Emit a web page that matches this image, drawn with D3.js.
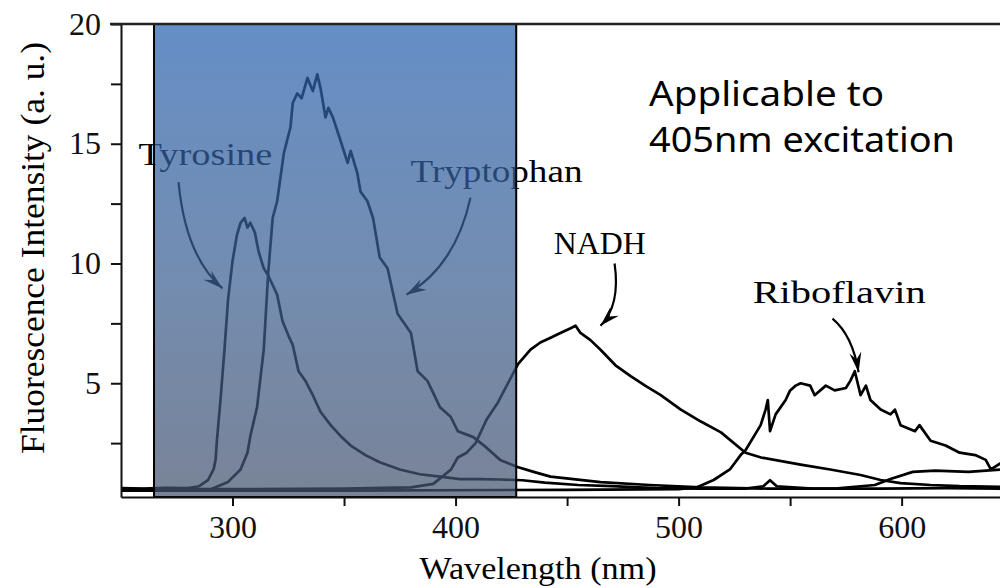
<!DOCTYPE html>
<html>
<head>
<meta charset="utf-8">
<script src="https://cdn.jsdelivr.net/npm/d3@7"></script>
<style>
  body { margin: 0; background: #fff; }
  svg { display: block; }
  .axis text { font-family: "Liberation Serif", serif; font-size: 32px; fill: #111; }
  .axis path, .axis line { stroke: #111; stroke-width: 2; }
  .curve { fill: none; stroke: #000; stroke-width: 2.7; stroke-linejoin: round; }
  .label { font-family: "Liberation Serif", serif; font-size: 31px; fill: #000; }
  .note { font-family: "Noto Sans", sans-serif; font-size: 34px; fill: #000; }
</style>
</head>
<body>
<svg id="chart" width="1000" height="588"></svg>
<script>
// emission spectra (nm / a.u.)
const tyrosineNm = [250, 260, 270, 280, 285, 289, 291.5, 292.4, 293, 294.6, 296.4, 298, 300, 302, 303.6, 305.4, 306.7, 308, 310, 311.7, 314, 316, 318, 320, 322.4, 325, 327, 329.6, 332.7, 336, 339.5, 344, 348.4, 353, 359.6, 366, 375, 384, 393, 402, 411, 420, 430, 440, 455, 470, 490, 510, 530, 538, 541, 544, 560, 590, 620, 645];
const tyrosineVal = [0.62, 0.6, 0.63, 0.62, 0.7, 0.95, 1.4, 1.8, 2.6, 4.3, 6.4, 8.5, 10.1, 11.2, 11.7, 11.9, 11.5, 11.7, 11.3, 10.5, 9.8, 9.5, 9.1, 8.7, 7.6, 7.0, 6.6, 5.5, 5.1, 4.5, 3.8, 3.25, 2.8, 2.4, 2.0, 1.7, 1.4, 1.2, 1.1, 1.0, 1.0, 0.98, 0.95, 0.85, 0.75, 0.7, 0.62, 0.6, 0.6, 0.7, 0.95, 0.7, 0.6, 0.6, 0.62, 0.6];

const tryptophanNm = [250, 270, 290, 298, 303.6, 306.7, 308, 311, 314, 316, 318, 320, 323, 326, 327, 329, 331, 333.6, 336, 338, 339.5, 341.7, 343, 345, 348, 351.6, 353, 356, 357.4, 360.5, 363, 366, 369.5, 374, 380, 383, 387.4, 393, 397.8, 401, 408, 414, 420, 427.8, 435, 442.6, 465, 487, 510, 540, 570, 588, 595, 605, 615, 630, 645];
const tryptophanVal = [0.55, 0.55, 0.56, 0.88, 1.4, 2.1, 2.8, 4.0, 6.4, 9.6, 11.9, 12.6, 14.6, 15.7, 16.7, 17.1, 16.9, 17.75, 17.2, 17.9, 17.3, 16.1, 16.5, 16.1, 15.25, 14.2, 14.7, 13.75, 13.0, 12.6, 11.9, 10.25, 9.8, 7.9, 7.1, 5.5, 5.1, 4.0, 3.6, 3.0, 2.75, 2.3, 1.8, 1.5, 1.3, 1.1, 0.87, 0.75, 0.65, 0.6, 0.6, 0.75, 1.0, 1.3, 1.35, 1.3, 1.4];

const nadhNm = [250, 300, 350, 380, 390, 398, 401, 405, 409, 411, 414, 419, 428, 433.6, 438, 442.6, 447, 451.6, 453.8, 456, 460.5, 465, 471.7, 478.5, 485, 492, 501, 510, 519, 530, 537, 554.7, 568, 581.6, 590.6, 599.5, 613, 626, 645];
const nadhVal = [0.58, 0.58, 0.6, 0.65, 0.8, 1.4, 1.9, 2.1, 2.5, 2.9, 3.5, 4.2, 5.8, 6.4, 6.7, 6.9, 7.1, 7.3, 7.4, 7.1, 6.8, 6.4, 5.75, 5.3, 4.9, 4.5, 3.9, 3.4, 2.95, 2.1, 1.9, 1.6, 1.4, 1.17, 0.96, 0.83, 0.75, 0.7, 0.67];

const riboflavinNm = [250, 350, 450, 500, 508, 515.7, 523, 527.8, 530, 536.8, 539, 540, 541, 543.5, 548, 550, 552.5, 554.7, 559, 561, 566, 570, 575, 577, 579, 581.6, 584, 586, 590.6, 595, 597, 599.5, 606, 608, 613, 619.7, 626, 633, 637.7, 640, 645];
const riboflavinVal = [0.52, 0.52, 0.55, 0.58, 0.65, 0.96, 1.4, 2.0, 2.2, 3.25, 3.9, 4.3, 3.0, 3.7, 4.3, 4.7, 4.9, 5.0, 4.9, 4.5, 4.9, 4.7, 4.8, 5.1, 5.5, 4.5, 4.9, 4.3, 3.9, 3.7, 3.9, 3.25, 3.0, 3.25, 2.6, 2.4, 2.1, 2.0, 1.8, 1.4, 1.7];

// axis ticks
const xTicks = [300, 350, 400, 450, 500, 550, 600];
const yTicks = [2.5, 5, 7.5, 10, 12.5, 15, 17.5, 20];

// labels and arrows in data units: [text, nm, value]
const labels = [["Tyrosine", 257.8, 14.1], ["Tryptophan", 379.8, 13.4], ["NADH", 444, 10.4], ["Riboflavin", 533.2, 8.33]];
const labelWidths = [134, 172, 92, 173];
// arrows: start, control, end
const arrows = [
  [[275.8, 13.4], [278.9, 10.3], [295.5, 8.96]],
  [[406.7, 12.75], [400, 9.9], [378, 8.7]],
  [[471.3, 10.0], [474, 8.25], [465, 7.4]],
  [[569, 7.7], [578, 7.0], [580.7, 5.46]]
];
// band of the 405 nm excitation overlay
const bandNm = [264.8, 427.2];

const svg = d3.select("#chart");
const x = d3.scaleLinear().domain([250, 645]).range([121, 1002]);
const y = d3.scaleLinear().domain([0.25, 20]).range([497, 24]);

svg.append("defs").append("clipPath").attr("id", "plot")
  .append("rect").attr("x", 121).attr("y", 24).attr("width", 880).attr("height", 473);

const series = [
  [tyrosineNm, tyrosineVal],
  [tryptophanNm, tryptophanVal],
  [nadhNm, nadhVal],
  [riboflavinNm, riboflavinVal]
];

const line = d3.line().x(d => x(d[0])).y(d => y(d[1]));
const g = svg.append("g").attr("clip-path", "url(#plot)");

series.forEach(s => {
  g.append("path")
    .datum(s[0].map((n, i) => [n, s[1][i]]))
    .attr("class", "curve")
    .attr("d", line);
});

// labels
labels.forEach((l, i) => {
  svg.append("text").attr("class", "label")
    .attr("x", x(l[1])).attr("y", y(l[2]))
    .attr("textLength", labelWidths[i]).attr("lengthAdjust", "spacingAndGlyphs")
    .text(l[0]);
});

// arrows
arrows.forEach(a => {
  const p0 = [x(a[0][0]), y(a[0][1])], c = [x(a[1][0]), y(a[1][1])], p1 = [x(a[2][0]), y(a[2][1])];
  svg.append("path")
    .attr("d", `M${p0[0]},${p0[1]} Q${c[0]},${c[1]} ${p1[0]},${p1[1]}`)
    .attr("fill", "none").attr("stroke", "#000").attr("stroke-width", 2.2);
  const ang = Math.atan2(p1[1] - c[1], p1[0] - c[0]);
  const len = 20, w = 6;
  const bx = p1[0] - len * Math.cos(ang), by = p1[1] - len * Math.sin(ang);
  const nx = -Math.sin(ang) * w, ny = Math.cos(ang) * w;
  svg.append("path")
    .attr("d", `M${p1[0]},${p1[1]} L${bx + nx},${by + ny} L${p1[0] - 13 * Math.cos(ang)},${p1[1] - 13 * Math.sin(ang)} L${bx - nx},${by - ny} Z`)
    .attr("fill", "#000");
});

// excitation overlay
const grad = svg.select("defs").append("linearGradient")
  .attr("id", "band").attr("x1", 0).attr("y1", 0).attr("x2", 0).attr("y2", 1);
grad.append("stop").attr("offset", "0%").attr("stop-color", "#2a63b0");
grad.append("stop").attr("offset", "55%").attr("stop-color", "#3d6091");
grad.append("stop").attr("offset", "100%").attr("stop-color", "#45546f");

svg.append("rect")
  .attr("x", x(bandNm[0])).attr("y", y(20))
  .attr("width", x(bandNm[1]) - x(bandNm[0]))
  .attr("height", y(0.25) - y(20))
  .attr("fill", "url(#band)").attr("fill-opacity", 0.72)
  .attr("stroke", "#000").attr("stroke-width", 2);

// axes
svg.append("g").attr("class", "axis")
  .attr("transform", "translate(0,497)")
  .call(d3.axisBottom(x).tickValues(xTicks).tickSizeInner(9).tickSizeOuter(0).tickPadding(9)
    .tickFormat(d => d % 100 === 0 ? d : ""));

svg.append("g").attr("class", "axis")
  .attr("transform", "translate(121,0)")
  .call(d3.axisLeft(y).tickValues(yTicks).tickSizeInner(10).tickSizeOuter(0).tickPadding(10)
    .tickFormat(d => d % 5 === 0 ? d : ""));

// top frame
svg.append("line").attr("x1", 110).attr("x2", 1000).attr("y1", 24).attr("y2", 24)
  .attr("stroke", "#222").attr("stroke-width", 2.5);

// axis titles
svg.append("text").attr("class", "label")
  .attr("x", 538).attr("y", 579).attr("text-anchor", "middle")
  .attr("textLength", 237).attr("lengthAdjust", "spacingAndGlyphs")
  .text("Wavelength (nm)");

svg.append("text").attr("class", "label")
  .attr("transform", "translate(44,248) rotate(-90)")
  .attr("text-anchor", "middle")
  .attr("textLength", 412).attr("lengthAdjust", "spacingAndGlyphs")
  .style("font-size", "33px")
  .text("Fluorescence Intensity (a. u.)");

// note
svg.append("text").attr("class", "note").attr("x", 649).attr("y", 106)
  .attr("textLength", 235).attr("lengthAdjust", "spacingAndGlyphs")
  .text("Applicable to");
svg.append("text").attr("class", "note").attr("x", 649).attr("y", 152)
  .attr("textLength", 306).attr("lengthAdjust", "spacingAndGlyphs")
  .text("405nm excitation");
</script>
</body>
</html>
